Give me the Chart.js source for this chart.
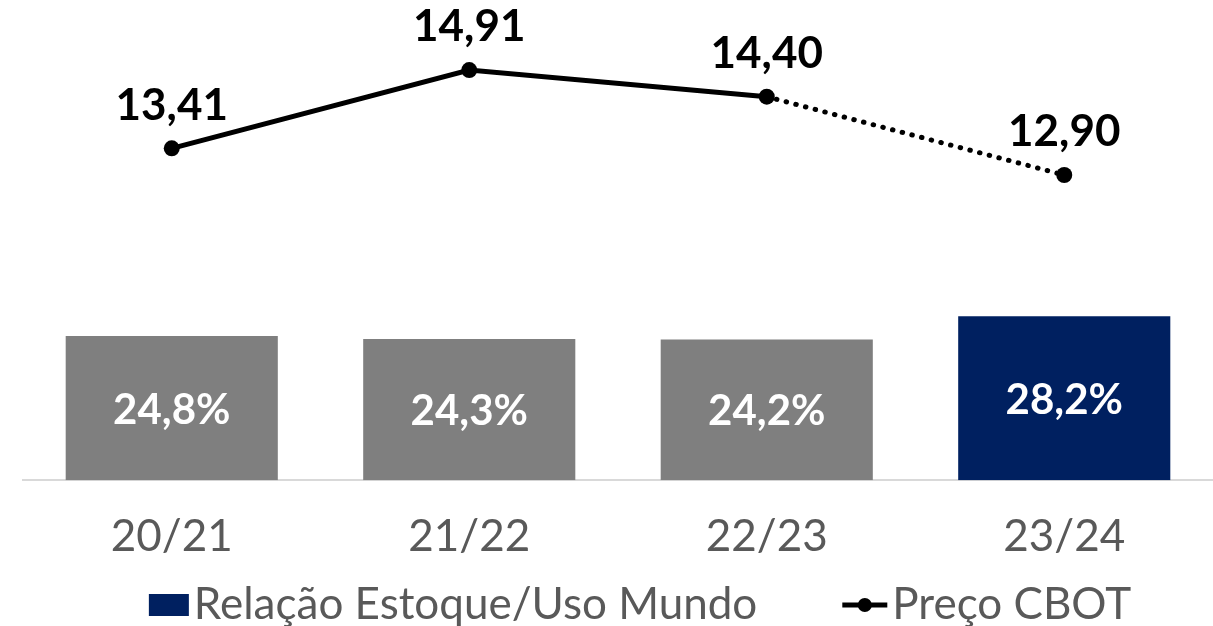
<!DOCTYPE html>
<html>
<head>
<meta charset="utf-8">
<script src="https://cdn.jsdelivr.net/npm/chart.js@4.4.1/dist/chart.umd.min.js"></script>
<style>
  html, body { margin: 0; padding: 0; background: #fff; }
  #wrap { width: 1213px; height: 626px; }
</style>
</head>
<body>
<div id="wrap"><canvas id="chart-1"></canvas></div>
<script>
// DATA
const seasons = ['20/21', '21/22', '22/23', '23/24'];
const stockUse = [24.8, 24.3, 24.2, 28.2];
const cbotPrice = [13.41, 14.91, 14.40, 12.90];
const barColors = ['#7f7f7f', '#7f7f7f', '#7f7f7f', '#002060'];

const FONT = 'Lato, "Noto Sans", sans-serif';
const comma = (v, d) => v.toFixed(d).replace('.', ',');

// value labels on bars and points
const valueLabels = {
  id: 'valueLabels',
  afterDatasetsDraw(chart) {
    const ctx = chart.ctx;
    ctx.save();
    ctx.textAlign = 'center';
    ctx.textBaseline = 'middle';

    // bars
    chart.getDatasetMeta(0).data.forEach((bar, i) => {
      ctx.font = 'bold 42px ' + FONT;
      ctx.fillStyle = '#ffffff';
      ctx.fillText(comma(stockUse[i], 1) + '%', bar.x, (bar.y + bar.base) / 2 + 2);
    });

    // line points
    chart.getDatasetMeta(1).data.forEach((pt, i) => {
      ctx.font = 'bold 44px ' + FONT;
      ctx.fillStyle = '#000000';
      ctx.fillText(comma(cbotPrice[i], 2), pt.x, pt.y - 43);
    });
    ctx.restore();
  }
};

// legend drawn by hand (square + line-with-dot)
const customLegend = {
  id: 'customLegend',
  afterDraw(chart) {
    const ctx = chart.ctx;
    const ds = chart.data.datasets;
    ctx.save();
    ctx.font = '44px ' + FONT;
    ctx.textBaseline = 'middle';
    ctx.textAlign = 'left';
    const y = 605;
    const w1 = ctx.measureText(ds[0].label).width;
    const w2 = ctx.measureText(ds[1].label).width;
    const boxW = 40, lineW = 45, gap = 5, itemGap = 85;
    const total = boxW + gap + w1 + itemGap + lineW + gap + w2;
    let x = 640 - total / 2;

    ctx.fillStyle = '#002060';
    ctx.fillRect(x, y - 11, boxW, 22);
    x += boxW + gap;
    ctx.fillStyle = '#595959';
    ctx.fillText(ds[0].label, x, y);
    x += w1 + itemGap;

    ctx.strokeStyle = '#000';
    ctx.lineWidth = 5;
    ctx.beginPath();
    ctx.moveTo(x, y);
    ctx.lineTo(x + lineW, y);
    ctx.stroke();
    ctx.fillStyle = '#000';
    ctx.beginPath();
    ctx.arc(x + lineW / 2, y, 7, 0, Math.PI * 2);
    ctx.fill();
    x += lineW + gap;
    ctx.fillStyle = '#595959';
    ctx.fillText(ds[1].label, x, y);
    ctx.restore();
  }
};

const data = {
  labels: seasons,
  datasets: [
    {
      type: 'bar',
      label: 'Relação Estoque/Uso Mundo',
      data: stockUse,
      backgroundColor: barColors,
      borderWidth: 0,
      barPercentage: 0.713,
      categoryPercentage: 1,
      yAxisID: 'y',
      order: 2
    },
    {
      type: 'line',
      label: 'Preço CBOT',
      data: cbotPrice,
      borderColor: '#000000',
      backgroundColor: '#000000',
      borderWidth: 5,
      borderCapStyle: 'round',
      pointRadius: 8,
      pointBackgroundColor: '#000000',
      pointBorderWidth: 0,
      tension: 0,
      yAxisID: 'y2',
      order: 1,
      segment: {
        borderDash: c => c.p0DataIndex === 2 ? [0.5, 9.5] : undefined
      }
    }
  ]
};

const config = {
  type: 'bar',
  data: data,
  options: {
    responsive: true,
    maintainAspectRatio: false,
    animation: false,
    layout: {
      autoPadding: false,
      padding: { left: 23, right: 0, top: 0, bottom: 33 }
    },
    plugins: {
      legend: { display: false },
      tooltip: { enabled: false }
    },
    scales: {
      x: {
        grid: { display: false, drawTicks: false, tickLength: 0 },
        border: { display: true, color: '#d9d9d9', width: 2 },
        ticks: {
          color: '#595959',
          padding: 30,
          font: { family: FONT, size: 44 }
        }
      },
      y: {
        display: false,
        min: 0,
        max: 82.6
      },
      y2: {
        display: false,
        min: 7.056,
        max: 16.251
      }
    }
  },
  plugins: [valueLabels, customLegend]
};

const ctx = document.getElementById('chart-1').getContext('2d');
const myChart = new Chart(ctx, config);
</script>
</body>
</html>
